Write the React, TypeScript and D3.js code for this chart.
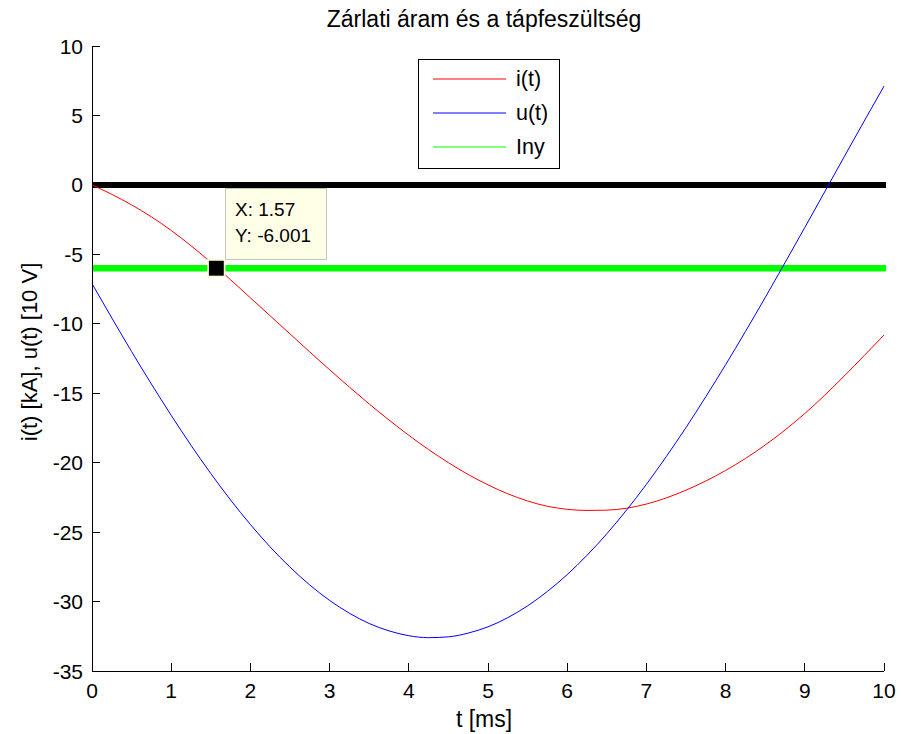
import React from "react";
import * as d3 from "d3";

// sample times in ms
const tMs = [
  0, 0.25, 0.5, 0.75, 1, 1.25, 1.5, 1.75, 2, 2.25, 2.5, 2.75, 3, 3.25, 3.5, 3.75, 4,
  4.25, 4.5, 4.75, 5, 5.25, 5.5, 5.75, 6, 6.25, 6.5, 6.75, 7, 7.25, 7.5, 7.75, 8,
  8.25, 8.5, 8.75, 9, 9.25, 9.5, 9.75, 10,
];

// short-circuit current [kA]
const iValues = [
  0, -0.68, -1.44, -2.3, -3.28, -4.38, -5.57, -6.83, -8.13, -9.43, -10.73, -12.03,
  -13.31, -14.56, -15.77, -16.93, -18.03, -19.06, -20.0, -20.85, -21.6, -22.24,
  -22.76, -23.14, -23.36, -23.44, -23.42, -23.28, -22.98, -22.54, -21.98, -21.32,
  -20.56, -19.7, -18.73, -17.65, -16.46, -15.15, -13.75, -12.29, -10.81,
];

// supply voltage [10 V]
const uValues = [
  -7.11, -9.58, -12.0, -14.34, -16.59, -18.75, -20.78, -22.69, -24.45, -26.07,
  -27.52, -28.81, -29.92, -30.84, -31.58, -32.11, -32.46, -32.6, -32.54, -32.27,
  -31.82, -31.16, -30.31, -29.27, -28.06, -26.67, -25.12, -23.41, -21.56, -19.57,
  -17.47, -15.25, -12.95, -10.56, -8.11, -5.6, -3.07, -0.51, 2.05, 4.59, 7.11,
];

const lnyLevel = -6;
const zeroLevel = 0;
const tipPoint = { x: 1.57, y: -6.001 };

const xTicks = [0, 1, 2, 3, 4, 5, 6, 7, 8, 9, 10];
const yTicks = [-35, -30, -25, -20, -15, -10, -5, 0, 5, 10];

const legendItems = [
  { label: "i(t)", color: "#ff0000" },
  { label: "u(t)", color: "#0000ff" },
  { label: "Iny", color: "#00ff00" },
];

const FONT = "Arial, 'Liberation Sans', sans-serif";

export default function App() {
  const width = 901;
  const height = 734;
  const left = 92;
  const right = 884;
  const top = 46;
  const bottom = 671;

  const x = d3.scaleLinear().domain([0, 10]).range([left, right]);
  const y = d3.scaleLinear().domain([-35, 10]).range([bottom, top]);

  const line = d3
    .line<number>()
    .x((_, i) => x(tMs[i]))
    .y((d) => y(d))
    .curve(d3.curveMonotoneX);

  const tipX = x(tipPoint.x);
  const tipY = y(tipPoint.y);

  return (
    <svg
      width={width}
      height={height}
      style={{ position: "absolute", left: 0, top: 0, background: "#fff" }}
      fontFamily={FONT}
    >
      <rect width={width} height={height} fill="#fff" />

      {/* horizontal reference lines */}
      <line
        x1={x(0)}
        x2={x(10) + 2}
        y1={y(zeroLevel)}
        y2={y(zeroLevel)}
        stroke="#000"
        strokeWidth={6}
      />
      <line
        x1={x(0)}
        x2={x(10) + 2}
        y1={y(lnyLevel)}
        y2={y(lnyLevel)}
        stroke="#00ff00"
        strokeWidth={6.5}
      />

      <path d={line(iValues) ?? ""} fill="none" stroke="#ff0000" strokeWidth={1} />
      <path d={line(uValues) ?? ""} fill="none" stroke="#0000ff" strokeWidth={1} />

      {/* axes */}
      <g stroke="#000" strokeWidth={1} shapeRendering="crispEdges">
        <line x1={left} x2={left} y1={top} y2={bottom} />
        <line x1={left} x2={right} y1={bottom} y2={bottom} />
        {xTicks.map((t) => (
          <line key={"xt" + t} x1={x(t)} x2={x(t)} y1={bottom} y2={bottom - 8} />
        ))}
        {yTicks.map((t) => (
          <line key={"yt" + t} x1={left} x2={left + 8} y1={y(t)} y2={y(t)} />
        ))}
      </g>
      <g fontSize={21} fill="#000">
        {xTicks.map((t) => (
          <text key={"xl" + t} x={x(t)} y={698} textAnchor="middle">
            {t}
          </text>
        ))}
        {yTicks.map((t) => (
          <text
            key={"yl" + t}
            x={left - 9}
            y={y(t)}
            textAnchor="end"
            dominantBaseline="central"
          >
            {t}
          </text>
        ))}
      </g>

      {/* titles */}
      <text x={484} y={27} textAnchor="middle" fontSize={23}>
        Zárlati áram és a tápfeszültség
      </text>
      <text x={484} y={727} textAnchor="middle" fontSize={23}>
        t [ms]
      </text>
      <text
        transform={`translate(37, 352) rotate(-90)`}
        textAnchor="middle"
        fontSize={22}
      >
        i(t) [kA], u(t) [10 V]
      </text>

      {/* legend */}
      <g>
        <rect x={418.5} y={59.5} width={141} height={109} fill="#fff" stroke="#000" strokeWidth={1} />
        {legendItems.map((d, i) => (
          <g key={d.label} transform={`translate(0, ${79 + i * 34})`}>
            <line x1={433} x2={506} y1={0} y2={0} stroke={d.color} strokeWidth={1} />
            <text x={516} y={0} dominantBaseline="central" fontSize={21.5}>
              {d.label}
            </text>
          </g>
        ))}
      </g>

      {/* data tip */}
      <rect
        x={tipX - 8.3}
        y={tipY - 8.3}
        width={16.6}
        height={16.6}
        fill="#000"
        stroke="#fffbd0"
        strokeWidth={1.7}
      />
      <g>
        <rect x={225.5} y={188.5} width={101} height={71} fill="#ffffe8" stroke="#c4c4c4" strokeWidth={1} />
        <text x={235} y={216} fontSize={19}>
          X: {tipPoint.x}
        </text>
        <text x={235} y={242} fontSize={19}>
          Y: {tipPoint.y}
        </text>
      </g>
    </svg>
  );
}
